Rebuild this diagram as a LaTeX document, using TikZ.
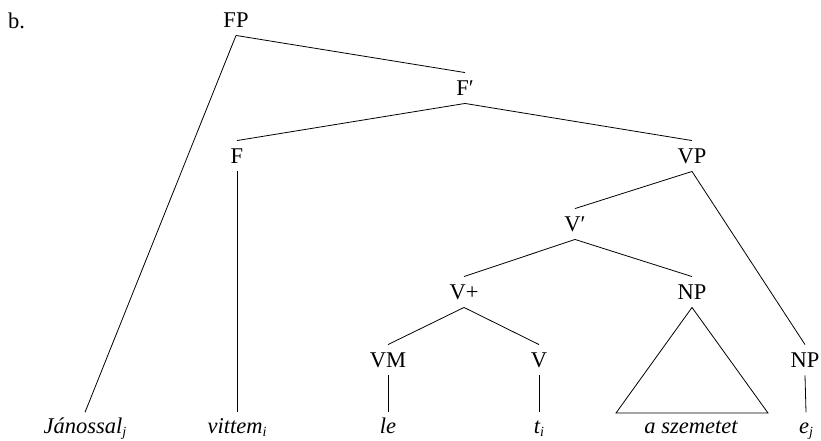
\documentclass[tikz,border=0pt]{standalone}
\usepackage{fontspec}
\setmainfont{Liberation Serif}
\newcommand{\subidx}[1]{\raisebox{-2.5pt}{\fontsize{14}{14}\selectfont #1}}
\begin{document}
\begin{tikzpicture}[x=1pt,y=-1pt,
  lab/.style={inner xsep=1pt, inner ysep=8pt, text height=14.5pt, text depth=0pt, font=\fontsize{22.5}{26}\selectfont},
  leaf/.style={inner xsep=1pt, inner ysep=0pt, text height=21pt, text depth=5pt, font=\fontsize{22.5}{26}\selectfont\itshape},
  br/.style={draw, line width=0.8pt}]
\useasboundingbox (0,0) rectangle (821,440);
\node[font=\fontsize{22.5}{26}\selectfont, anchor=base west, inner sep=0pt] (lbl) at (8,28) {b.};
\node[lab] (FP) at (236,20) {FP};
\node[lab] (F1) at (465,88) {F′};
\node[lab] (F) at (237,156) {F};
\node[lab] (VP) at (692,156) {VP};
\node[lab] (V1) at (575,224) {V′};
\node[lab] (Vp) at (464,292) {V+};
\node[lab] (NPm) at (692,292) {NP};
\node[lab] (VM) at (388,360) {VM};
\node[lab] (V) at (539,360) {V};
\node[lab] (NPr) at (805,360) {NP};
\node[leaf, anchor=base] (jan) at (85,433.5) {Jánossal\subidx{j}};
\node[leaf, anchor=base] (vit) at (237,433.5) {vittem\subidx{i}};
\node[leaf, anchor=base] (le) at (388,433.5) {le};
\node[leaf, anchor=base] (ti) at (539,433.5) {t\subidx{i}};
\node[leaf, anchor=base] (sz) at (691,433.5) {a szemetet};
\node[leaf, anchor=base] (ej) at (806,433.5) {e\subidx{j}};
\coordinate (tl) at (616,413);
\coordinate (tr) at (768,413);
\draw[br] (FP.south) -- (F1.north);
\draw[br] (FP.south) -- (jan.north);
\draw[br] (F1.south) -- (F.north);
\draw[br] (F1.south) -- (VP.north);
\draw[br] (F.south) -- (vit.north);
\draw[br] (VP.south) -- (V1.north);
\draw[br] (VP.south) -- (NPr.north);
\draw[br] (V1.south) -- (Vp.north);
\draw[br] (V1.south) -- (NPm.north);
\draw[br] (Vp.south) -- (VM.north);
\draw[br] (Vp.south) -- (V.north);
\draw[br] (VM.south) -- (le.north);
\draw[br] (V.south) -- (ti.north);
\draw[br] (NPr.south) -- (ej.north);
\draw[br, line join=miter] (NPm.south) -- (tl) -- (tr) -- cycle;
\end{tikzpicture}
\end{document}
